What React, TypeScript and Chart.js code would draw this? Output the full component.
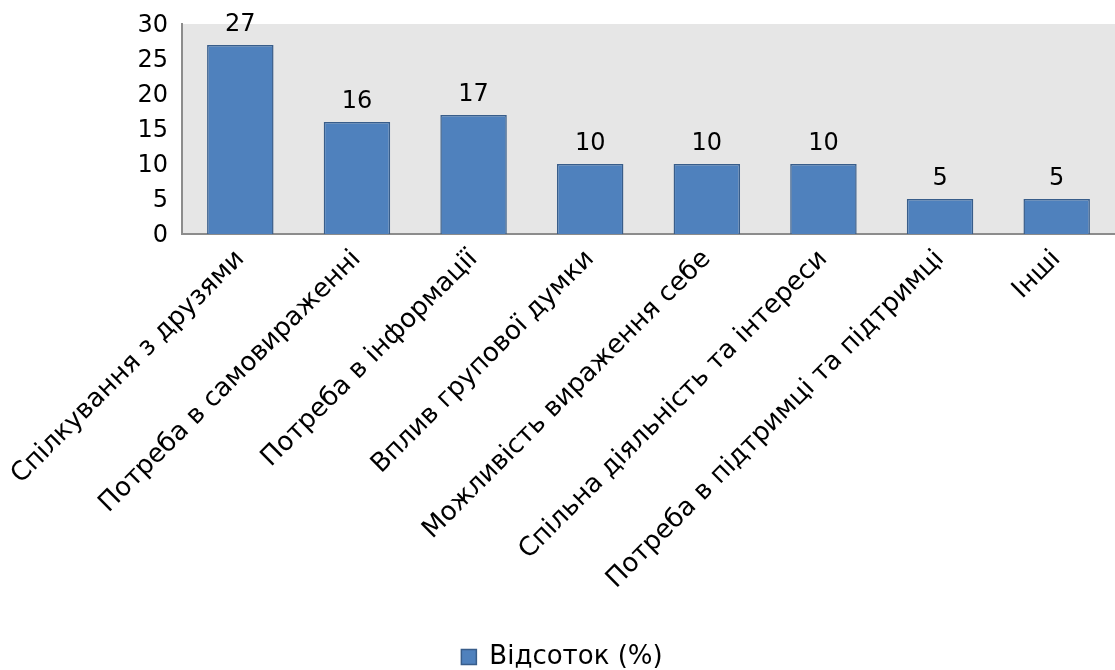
import React, { useEffect, useRef } from "react";
import { Chart, registerables } from "chart.js";

Chart.register(...registerables);

const categories = [
  "Спілкування з друзями",
  "Потреба в самовираженні",
  "Потреба в інформації",
  "Вплив групової думки",
  "Можливість вираження себе",
  "Спільна діяльність та інтереси",
  "Потреба в підтримці та підтримці",
  "Інші",
];
const percentValues = [27, 16, 17, 10, 10, 10, 5, 5];
const seriesLabel = "Відсоток (%)";
const yTicks = [0, 5, 10, 15, 20, 25, 30];

const FONT = "'DejaVu Sans', Verdana, sans-serif";
const PAD_LEFT = 9;
const PAD_BOTTOM = -10;

const plotBackground = {
  id: "plotBackground",
  beforeDraw(chart: any) {
    const { ctx, chartArea } = chart;
    ctx.save();
    ctx.fillStyle = "#e6e6e6";
    ctx.fillRect(chartArea.left, chartArea.top, chartArea.right - chartArea.left, chartArea.bottom - chartArea.top);
    ctx.restore();
  },
};

const valueLabels = {
  id: "valueLabels",
  afterDatasetsDraw(chart: any) {
    const { ctx } = chart;
    const meta = chart.getDatasetMeta(0);
    const data = chart.data.datasets[0].data;
    ctx.save();
    ctx.font = `24px ${FONT}`;
    ctx.fillStyle = "#000";
    ctx.textAlign = "center";
    ctx.textBaseline = "bottom";
    meta.data.forEach((bar: any, i: number) => {
      ctx.fillText(String(data[i]), bar.x, bar.y - 8);
    });
    ctx.restore();
  },
};

export default function App() {
  const canvasRef = useRef<HTMLCanvasElement | null>(null);

  useEffect(() => {
    if (!canvasRef.current) return;
    const chart = new Chart(canvasRef.current, {
      type: "bar",
      data: {
        labels: categories,
        datasets: [
          {
            label: seriesLabel,
            data: percentValues,
            backgroundColor: "#4f81bd",
            borderColor: "#385d8a",
            borderWidth: 1.5,
            categoryPercentage: 1,
            barPercentage: 0.57,
          },
        ],
      },
      options: {
        responsive: false,
        animation: false,
        layout: { padding: { top: 24, left: PAD_LEFT, right: 0, bottom: PAD_BOTTOM } },
        plugins: {
          tooltip: { enabled: false },
          legend: {
            position: "bottom",
            labels: {
              font: { family: FONT, size: 26 },
              color: "#000",
              boxWidth: 15,
              boxHeight: 15,
              padding: 1,
            },
          },
        },
        scales: {
          x: {
            grid: { display: false },
            border: { display: true, color: "#8c8c8c", width: 2 },
            ticks: {
              autoSkip: false,
              maxRotation: 45,
              minRotation: 45,
              color: "#000",
              font: { family: FONT, size: 26 },
              padding: 2,
            },
            afterFit(scale: any) {
              const legendH = scale.chart.legend ? scale.chart.legend.height : 0;
              scale.height = scale.chart.height - PAD_BOTTOM - 234 - legendH;
            },
          },
          y: {
            min: 0,
            max: 30,
            grid: { display: false },
            border: { display: true, color: "#8c8c8c", width: 2 },
            afterBuildTicks(scale: any) {
              scale.ticks = yTicks.map((v) => ({ value: v }));
            },
            ticks: {
              color: "#000",
              font: { family: FONT, size: 24 },
              padding: 6,
              labelOffset: 2,
            },
            afterFit(scale: any) {
              scale.width = 182 - PAD_LEFT;
            },
          },
        },
      },
      plugins: [plotBackground, valueLabels],
    });
    return () => chart.destroy();
  }, []);

  return (
    <div style={{ position: "absolute", left: 0, top: 0, width: 1115, height: 670, background: "#fff" }}>
      <canvas ref={canvasRef} width={1115} height={670} />
    </div>
  );
}
